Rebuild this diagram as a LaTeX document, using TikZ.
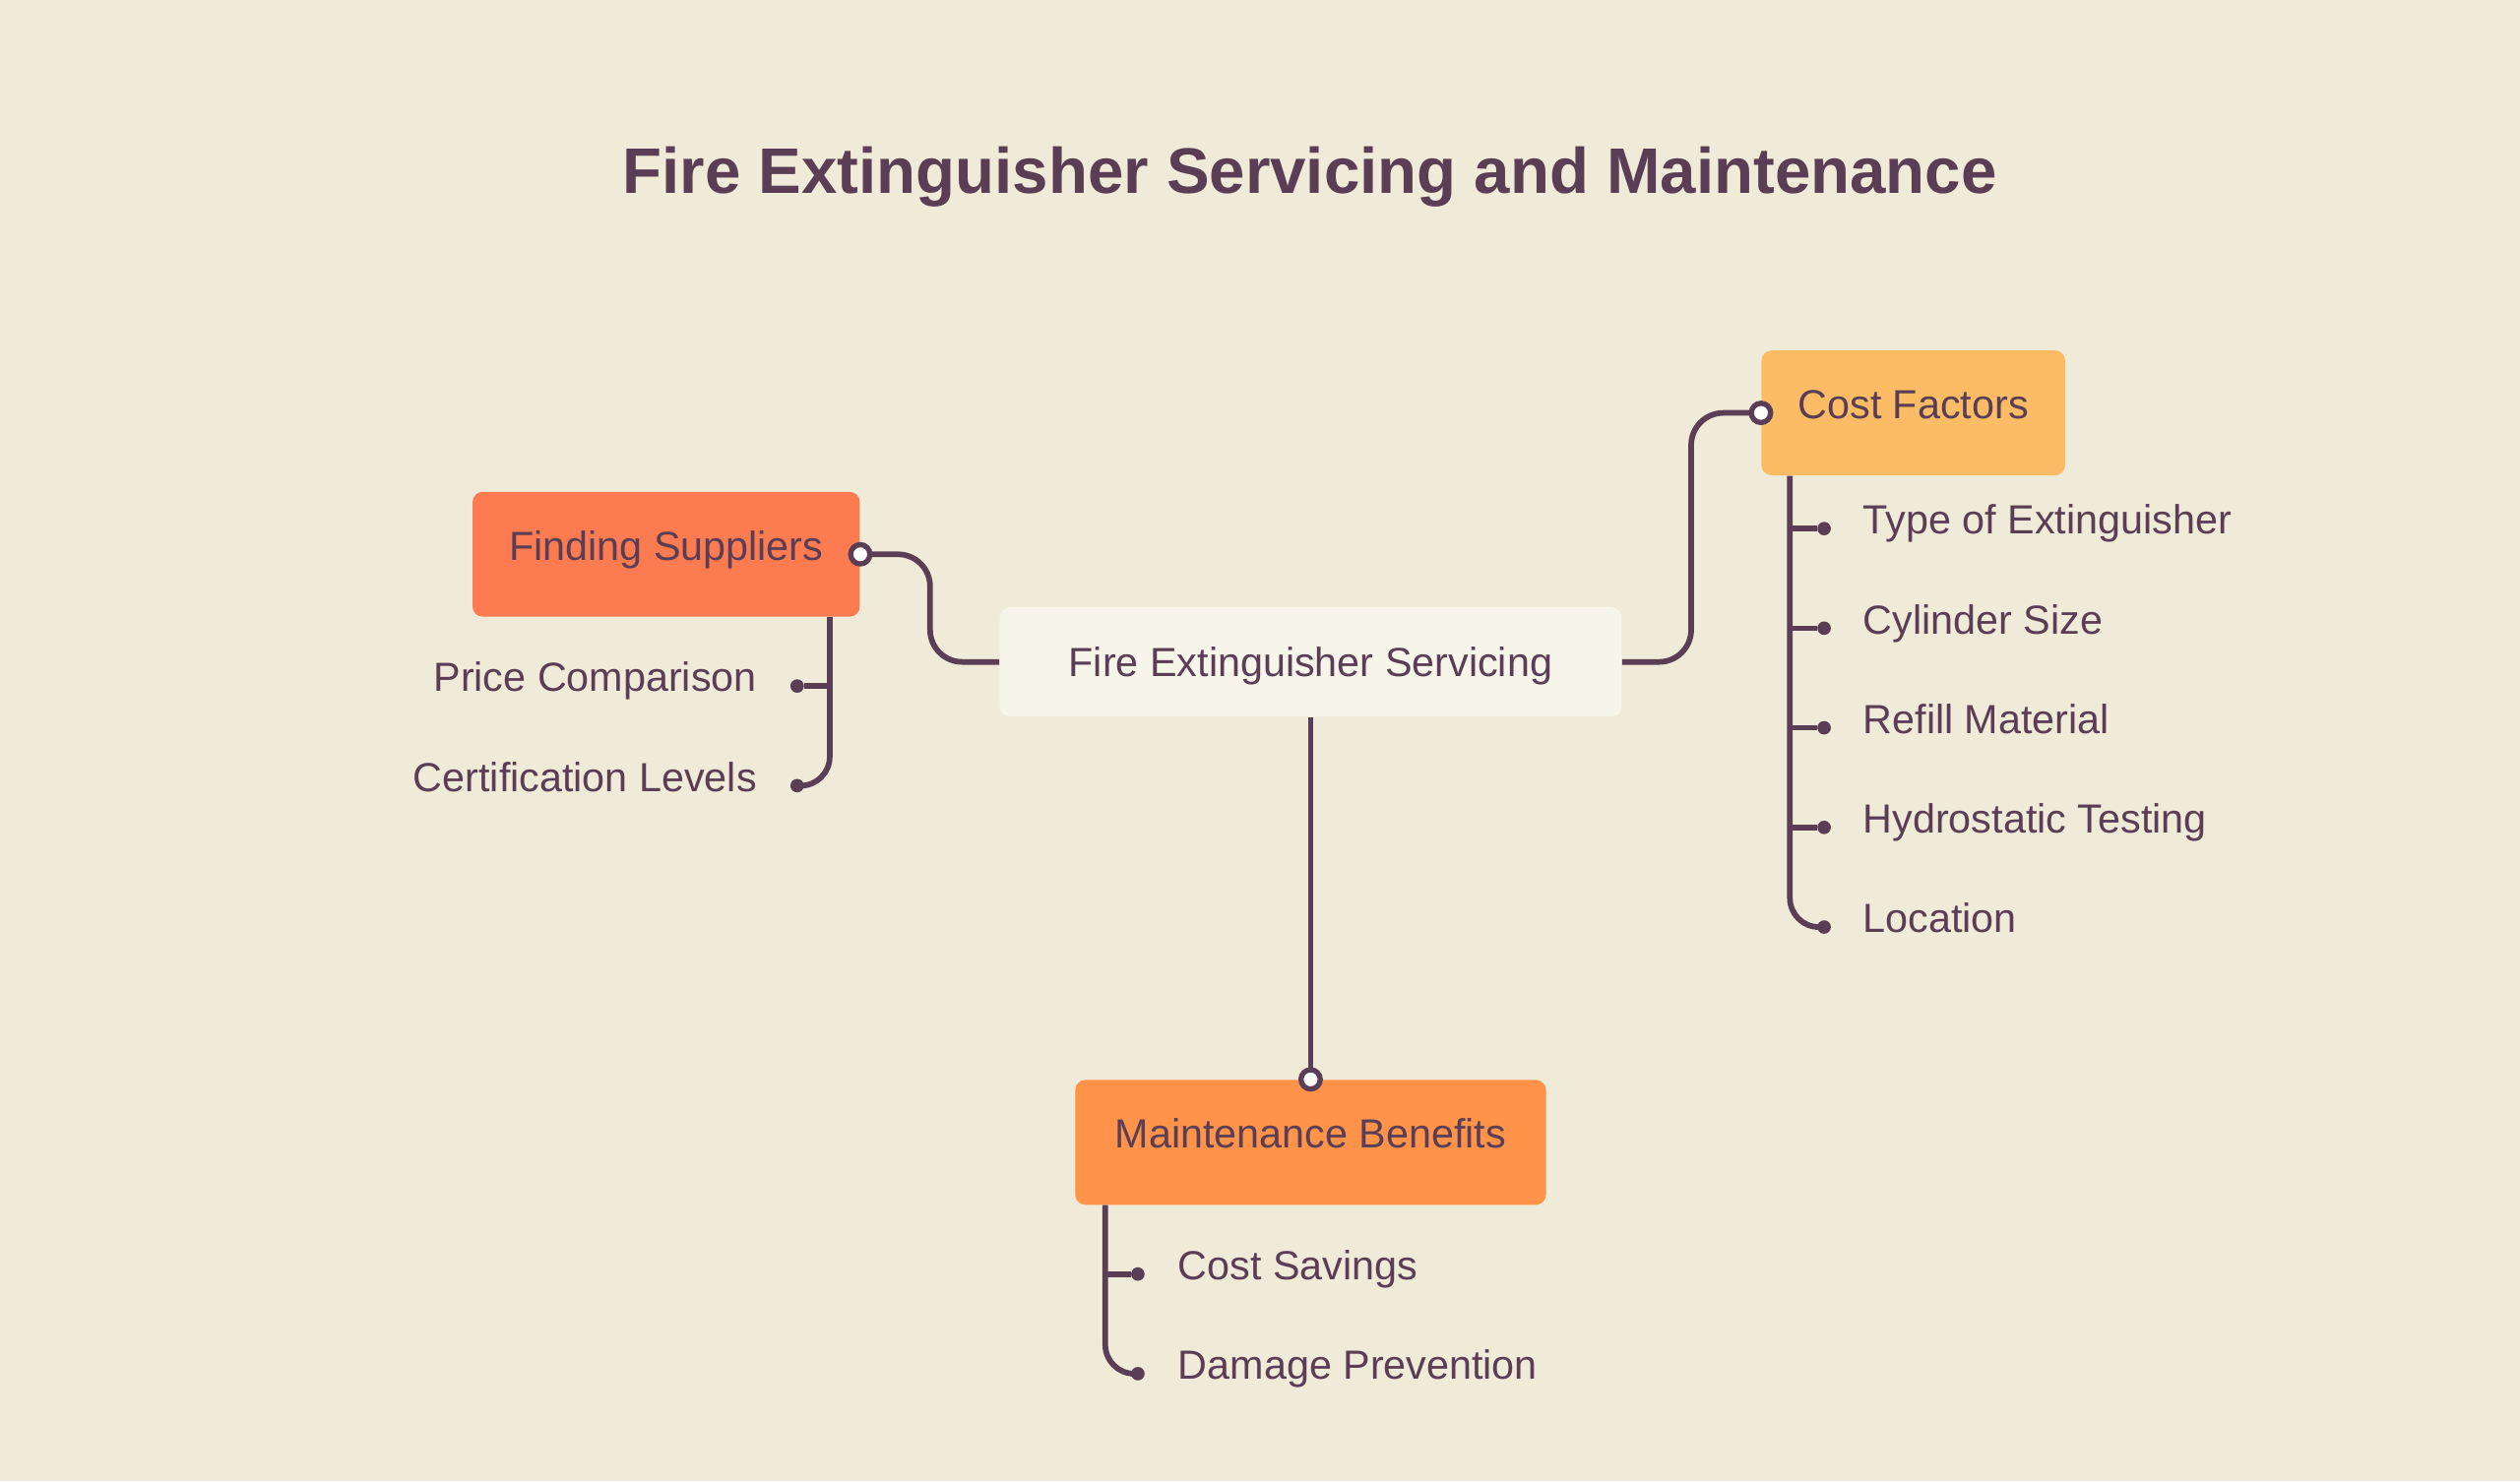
\documentclass[tikz,border=0pt]{standalone}
\usepackage{fontspec}
\setmainfont{Liberation Sans}
\usepackage{tikz}
\usetikzlibrary{arrows.meta,positioning}

\definecolor{bgcream}{HTML}{F0EAD8}
\definecolor{hubfill}{HTML}{F7F4EA}
\definecolor{inkplum}{HTML}{5A3E55}
\definecolor{coral}{HTML}{FC7B50}
\definecolor{apricot}{HTML}{FCBB65}
\definecolor{tangerine}{HTML}{FE9349}

\tikzset{
	headline/.style={text=inkplum, font=\fontsize{28.5}{32}\selectfont\bfseries},
	hub/.style={fill=hubfill, rounded corners=1.6mm, inner sep=0pt, text=inkplum,
		minimum width=96.75mm, minimum height=17mm, text height=13pt, text depth=0pt},
	topic/.style={rounded corners=1.6mm, inner sep=0pt, text=inkplum,
		text height=30.3pt, text depth=25pt},
	leaf/.style={text=inkplum, inner sep=0pt, text height=13pt, text depth=8pt},
	link/.style={draw=inkplum, line width=2.5pt, rounded corners=5mm},
	twig/.style={draw=inkplum, line width=2.5pt, rounded corners=4.5mm},
	port/.style={circle, draw=inkplum, fill=white, line width=2.3pt, inner sep=0pt, minimum size=3mm},
	dot/.style={circle, fill=inkplum, inner sep=0pt, minimum size=2.1mm}
}

\begin{document}
\begin{tikzpicture}[x=0.25mm, y=-0.25mm, font=\fontsize{18}{22}\selectfont]

% ---- background ----
\fill[bgcream] (0,0) rectangle (1568,922);
\useasboundingbox (0,0) rectangle (1568,922);

% ---- title ----
\node[headline] (title) at (815,110) {Fire Extinguisher Servicing and Maintenance};

% ---- topics ----
\node[hub] (hub) at (815.5,412) {Fire Extinguisher Servicing};
\node[topic, fill=coral, minimum width=60.25mm] (suppliers) at (414.5,345) {Finding Suppliers};
\node[topic, fill=apricot, minimum width=47.25mm] (cost) at (1190.5,257) {Cost Factors};
\node[topic, fill=tangerine, minimum width=73.25mm] (benefits) at (815.5,711) {Maintenance Benefits};

% ---- links to the hub ----
\draw[link] (hub.west) -- ++(-43,0) |- (suppliers.east);
\draw[link] (hub.east) -- ++(43,0) |- (cost.west);
\draw[link] (hub.south) -- (benefits.north);
\node[port] (suppliers-port) at (suppliers.east) {};
\node[port] (cost-port) at (cost.west) {};
\node[port] (benefits-port) at (benefits.north) {};

% ---- finding suppliers ----
\node[dot] (price-dot) at (496,427) {};
\node[dot] (cert-dot) at (496,489) {};
\node[leaf, left=6.2mm of price-dot.center] (price) {Price Comparison};
\node[leaf, left=6.2mm of cert-dot.center] (cert) {Certification Levels};
\coordinate (s-spine) at ([xshift=-4.75mm]suppliers.south east);
\draw[twig] (s-spine) |- (cert-dot);
\draw[twig] (s-spine |- price-dot) -- (price-dot);

% ---- cost factors ----
\foreach \leafname/\ly in {type/329,cyl/391,refill/453,hydro/515,loc/577}
	\node[dot] (\leafname-dot) at (1135,\ly) {};
\node[leaf, right=6mm of type-dot.center] (type) {Type of Extinguisher};
\node[leaf, right=6mm of cyl-dot.center] (cyl) {Cylinder Size};
\node[leaf, right=6mm of refill-dot.center] (refill) {Refill Material};
\node[leaf, right=6mm of hydro-dot.center] (hydro) {Hydrostatic Testing};
\node[leaf, right=6mm of loc-dot.center] (loc) {Location};
\coordinate (c-spine) at ([xshift=4.5mm]cost.south west);
\draw[twig] (c-spine) |- (loc-dot);
\foreach \leafname in {type,cyl,refill,hydro}
	\draw[twig] (c-spine |- \leafname-dot) -- (\leafname-dot);

% ---- maintenance benefits ----
\node[dot] (savings-dot) at (708,793) {};
\node[dot] (damage-dot) at (708,855) {};
\node[leaf, right=6.2mm of savings-dot.center] (savings) {Cost Savings};
\node[leaf, right=6.2mm of damage-dot.center] (damage) {Damage Prevention};
\coordinate (b-spine) at ([xshift=4.75mm]benefits.south west);
\draw[twig] (b-spine) |- (damage-dot);
\draw[twig] (b-spine |- savings-dot) -- (savings-dot);

\end{tikzpicture}
\end{document}
